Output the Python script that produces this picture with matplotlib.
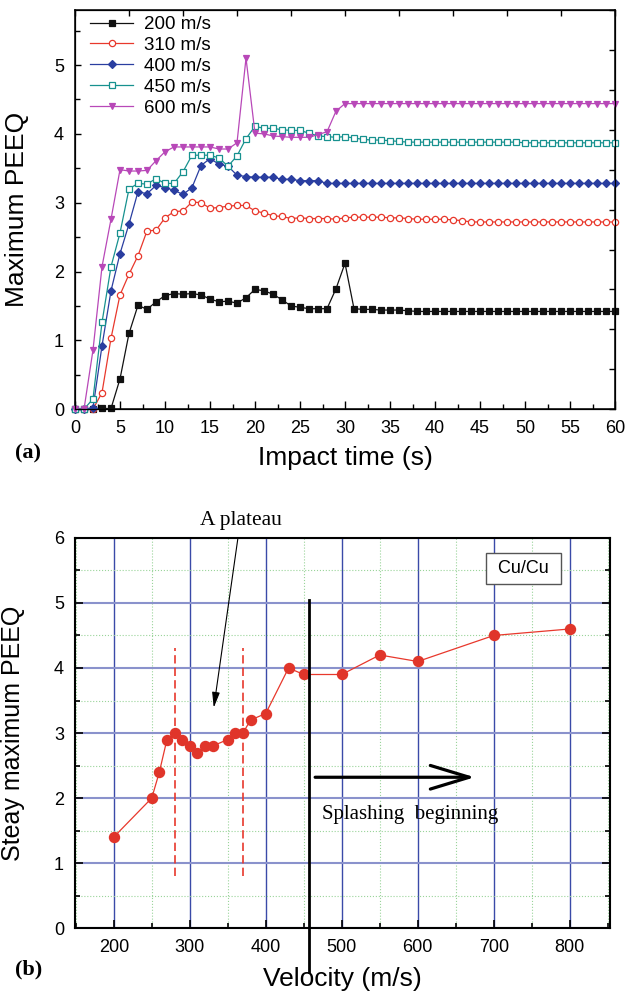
import numpy as np
import matplotlib
matplotlib.use('Agg')
import matplotlib.pyplot as plt
from matplotlib.ticker import MultipleLocator

plt.rcParams['font.family'] = ['Liberation Sans', 'DejaVu Sans']

# (a) maximum PEEQ vs impact time, one value per second
t = np.arange(61)
peeq_200 = [0, 0, 0, 0.01, 0.01, 0.44, 1.10, 1.51, 1.45, 1.56,
            1.65, 1.68, 1.67, 1.68, 1.66, 1.60, 1.56, 1.57, 1.54, 1.62,
            1.74, 1.72, 1.67, 1.59, 1.50, 1.48, 1.46, 1.46, 1.46, 1.75,
            2.12, 1.46, 1.45, 1.45, 1.44, 1.44, 1.44, 1.43, 1.42, 1.42,
            1.42, 1.42, 1.42, 1.42, 1.42, 1.42, 1.42, 1.42, 1.42, 1.42,
            1.42, 1.42, 1.42, 1.42, 1.42, 1.42, 1.42, 1.42, 1.42, 1.42, 1.42]
peeq_310 = [0, 0, 0, 0.24, 1.03, 1.66, 1.96, 2.23, 2.59, 2.60,
            2.78, 2.87, 2.88, 3.01, 3.00, 2.92, 2.93, 2.95, 2.96, 2.96,
            2.88, 2.85, 2.81, 2.80, 2.77, 2.78, 2.77, 2.77, 2.77, 2.76,
            2.78, 2.79, 2.79, 2.79, 2.79, 2.78, 2.78, 2.77, 2.76, 2.76,
            2.76, 2.76, 2.75, 2.74, 2.72, 2.72, 2.72, 2.72, 2.72, 2.72,
            2.72, 2.72, 2.72, 2.72, 2.72, 2.72, 2.72, 2.72, 2.72, 2.72, 2.72]
peeq_400 = [0, 0, 0.02, 0.92, 1.72, 2.26, 2.69, 3.16, 3.13, 3.25,
            3.22, 3.18, 3.12, 3.22, 3.54, 3.64, 3.56, 3.53, 3.40, 3.38,
            3.37, 3.37, 3.37, 3.34, 3.34, 3.32, 3.32, 3.32, 3.28, 3.28,
            3.28, 3.28, 3.28, 3.28, 3.28, 3.28, 3.28, 3.28, 3.28, 3.28,
            3.28, 3.28, 3.28, 3.28, 3.28, 3.28, 3.28, 3.28, 3.28, 3.28,
            3.28, 3.28, 3.28, 3.28, 3.28, 3.28, 3.28, 3.28, 3.28, 3.28, 3.28]
peeq_450 = [0, 0, 0.15, 1.26, 2.07, 2.56, 3.20, 3.28, 3.27, 3.35,
            3.28, 3.28, 3.45, 3.69, 3.69, 3.69, 3.65, 3.53, 3.68, 3.93,
            4.11, 4.08, 4.08, 4.06, 4.05, 4.05, 4.01, 3.97, 3.96, 3.95,
            3.96, 3.94, 3.92, 3.91, 3.91, 3.90, 3.89, 3.88, 3.88, 3.88,
            3.88, 3.88, 3.88, 3.88, 3.88, 3.88, 3.88, 3.88, 3.88, 3.88,
            3.87, 3.87, 3.87, 3.87, 3.87, 3.87, 3.87, 3.87, 3.87, 3.87, 3.87]
peeq_600 = [0, 0, 0.86, 2.07, 2.76, 3.48, 3.46, 3.46, 3.47, 3.61,
            3.74, 3.81, 3.81, 3.81, 3.81, 3.81, 3.78, 3.78, 3.87, 5.10,
            4.01, 4.00, 3.97, 3.96, 3.95, 3.95, 3.95, 3.99, 4.03, 4.33,
            4.44, 4.44, 4.44, 4.44, 4.44, 4.44, 4.44, 4.44, 4.44, 4.44,
            4.44, 4.44, 4.44, 4.44, 4.44, 4.44, 4.44, 4.44, 4.44, 4.44,
            4.44, 4.44, 4.44, 4.44, 4.44, 4.44, 4.44, 4.44, 4.44, 4.44, 4.44]

# (b) steady maximum PEEQ vs velocity
velocity = [200, 250, 260, 270, 280, 290, 300, 310, 320, 330, 350,
            360, 370, 380, 400, 430, 450, 500, 550, 600, 700, 800]
steady = [1.4, 2.0, 2.4, 2.9, 3.0, 2.9, 2.8, 2.7, 2.8, 2.8, 2.9,
          3.0, 3.0, 3.2, 3.3, 4.0, 3.9, 3.9, 4.2, 4.1, 4.5, 4.6]
plateau_bounds = [280, 370]
splash_v = 457

fig = plt.figure(figsize=(6.25, 9.98), dpi=100)

# ---- (a)
ax = fig.add_axes([0.12, 0.590, 0.864, 0.400])
series = [
    (peeq_200, '200 m/s', '#111111', 's', '#111111', 4.0),
    (peeq_310, '310 m/s', '#e8382c', 'o', 'white', 4.5),
    (peeq_400, '400 m/s', '#2a3ea0', 'D', '#2a3ea0', 4.0),
    (peeq_450, '450 m/s', '#17918f', 's', 'white', 4.5),
    (peeq_600, '600 m/s', '#b848b8', 'v', '#b848b8', 5.0),
]
for y, lab, c, m, fc, ms in series:
    ax.plot(t, y, color=c, lw=0.9, marker=m, ms=ms, mfc=fc, mec=c,
            mew=0.9, label=lab, clip_on=False, zorder=3)
ax.set_xlim(0, 60)
ax.set_ylim(0, 5.8)
ax.xaxis.set_major_locator(MultipleLocator(5))
ax.xaxis.set_minor_locator(MultipleLocator(2.5))
ax.yaxis.set_major_locator(MultipleLocator(1))
ax.yaxis.set_minor_locator(MultipleLocator(0.5))
ax.tick_params(which='both', direction='in', labelsize=13, pad=8)
ax.tick_params(which='major', length=6, width=1)
ax.tick_params(which='minor', length=3.5, width=1)
ax.tick_params(axis='y', which='major', length=4.5)
for s in ax.spines.values():
    s.set_linewidth(1.1)
ax.set_xlabel('Impact time (s)', fontsize=19)
ax.set_ylabel('Maximum PEEQ', fontsize=19)
ax.xaxis.set_label_coords(0.5, -0.092)
ax.yaxis.set_label_coords(-0.085, 0.5)
ax.legend(loc='upper left', bbox_to_anchor=(0.028, 0.985), frameon=False,
          fontsize=13.5, handlelength=2.3, handletextpad=0.6,
          labelspacing=0.2, borderpad=0, borderaxespad=0)

axt = ax.twiny()
axt.set_xlim(0, 1)
axt.set_xticks(np.linspace(0, 1, 11))
axt.tick_params(direction='in', length=4.5, width=1, labeltop=False)
axr = ax.twinx()
axr.set_ylim(0, 1)
axr.set_yticks(np.linspace(0, 1, 11))
axr.tick_params(direction='in', length=4.5, width=1, labelright=False)

fig.text(0.045, 0.546, '(a)', fontsize=16, fontweight='bold',
         family='Liberation Serif', ha='center', va='center')

# ---- (b)
bx = fig.add_axes([0.12, 0.070, 0.856, 0.391])
bx.set_xlim(149, 853)
bx.set_ylim(0, 6)
bx.xaxis.set_major_locator(MultipleLocator(100))
bx.xaxis.set_minor_locator(MultipleLocator(50))
bx.yaxis.set_major_locator(MultipleLocator(1))
bx.yaxis.set_minor_locator(MultipleLocator(0.5))
bx.set_axisbelow(True)
bx.xaxis.grid(True, which='major', color='#3a4aa8', lw=1.0)
bx.yaxis.grid(True, which='major', color='#8a92cc', lw=1.5)
bx.grid(True, which='minor', color='#9ad49a', ls=':', lw=0.8)
bx.tick_params(which='both', direction='in', labelsize=13, pad=8,
               right=True, width=1.2)
bx.tick_params(which='major', length=6)
bx.tick_params(which='minor', length=3.5)
for s in bx.spines.values():
    s.set_linewidth(1.5)

bx.plot(velocity, steady, color='#e8382c', lw=0.9, marker='o', ms=7.2,
        mfc='#e0352a', mec='#e0352a', zorder=3)
bx.vlines(plateau_bounds, 0.8, 4.3, colors='#e8382c',
          linestyles=(0, (5, 2.5)), lw=1.2, zorder=2)
bx.plot([splash_v, splash_v], [5.05, -0.67], color='k', lw=2,
        clip_on=False, zorder=4)
bx.annotate('', xy=(675, 2.32), xytext=(465, 2.32),
            arrowprops=dict(arrowstyle='->,head_length=2.8,head_width=0.85',
                            lw=2.3, color='k', mutation_scale=10,
                            shrinkA=0, shrinkB=0))
bx.text(474, 1.75, 'Splashing  beginning', family='Liberation Serif',
        fontsize=15, ha='left', va='center')
bx.annotate('A plateau', xy=(331.6, 3.39), xytext=(366.7, 6.27),
            family='Liberation Serif', fontsize=15.5, ha='center',
            va='center', annotation_clip=False,
            arrowprops=dict(arrowstyle='-|>,head_length=0.6,head_width=0.15',
                            lw=0.8, color='k', shrinkA=4, shrinkB=0))
bx.text(739.5, 5.53, ' Cu/Cu ', fontsize=13, ha='center', va='center',
        bbox=dict(boxstyle='square,pad=0.4', fc='white', ec='#555555', lw=1))

bx.set_xlabel('Velocity (m/s)', fontsize=19)
bx.set_ylabel('Steay maximum PEEQ', fontsize=18)
bx.xaxis.set_label_coords(0.5, -0.100)
bx.yaxis.set_label_coords(-0.093, 0.5)

fig.text(0.045, 0.029, '(b)', fontsize=16, fontweight='bold',
         family='Liberation Serif', ha='center', va='center')

fig.savefig('out.png', dpi=100)
